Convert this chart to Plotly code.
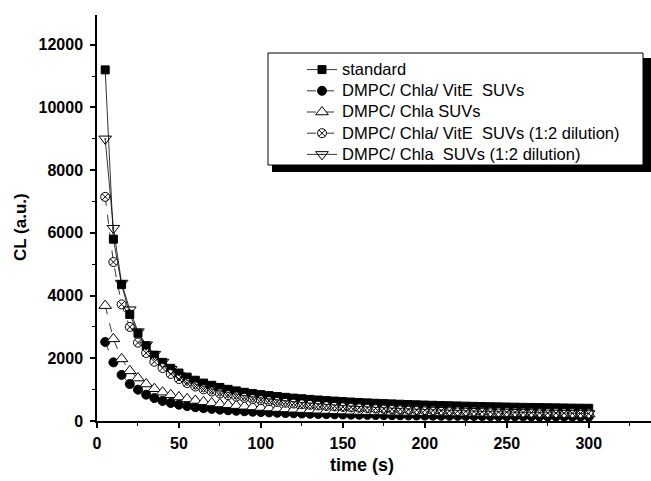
import plotly.graph_objects as go

time_s = list(range(5, 305, 5))

standard = [11200, 5800, 4350, 3400, 2800, 2400, 2100, 1870, 1680, 1530,
            1400, 1300, 1210, 1140, 1070, 1010, 960, 915, 875, 840,
            810, 780, 755, 730, 710, 690, 670, 650, 635, 620,
            605, 590, 578, 566, 555, 545, 535, 526, 517, 509,
            501, 494, 487, 480, 474, 468, 462, 456, 451, 446,
            441, 436, 432, 428, 424, 420, 416, 412, 409, 405]

vite_suv = [2520, 1870, 1470, 1180, 1000, 840, 730, 640, 575, 520,
            475, 440, 410, 385, 362, 342, 325, 310, 296, 284,
            273, 263, 254, 246, 238, 231, 225, 219, 213, 208,
            203, 199, 195, 191, 187, 184, 181, 178, 175, 172,
            170, 167, 165, 163, 161, 159, 157, 155, 153, 151,
            150, 148, 147, 145, 144, 142, 141, 140, 139, 138]

chla_suv = [3680, 2620, 1980, 1600, 1370, 1180, 1030, 920, 835, 765,
            705, 655, 612, 575, 543, 515, 490, 468, 448, 430,
            414, 399, 386, 374, 363, 352, 343, 334, 326, 318,
            311, 305, 299, 293, 288, 283, 278, 274, 270, 266,
            262, 259, 256, 253, 250, 247, 245, 242, 240, 238,
            236, 234, 232, 230, 228, 227, 225, 224, 222, 221]

vite_dil = [7150, 5070, 3720, 3000, 2500, 2170, 1890, 1690, 1500, 1340,
            1210, 1100, 1010, 940, 880, 825, 780, 740, 700, 665,
            635, 607, 582, 558, 536, 516, 497, 480, 464, 449,
            435, 422, 410, 398, 387, 377, 367, 358, 349, 341,
            333, 326, 319, 312, 306, 300, 294, 288, 283, 278,
            273, 268, 264, 260, 256, 252, 248, 244, 240, 236]

chla_dil = [9000, 6150, 4400, 3550, 2850, 2430, 2130, 1880, 1650, 1450,
            1300, 1180, 1090, 1020, 960, 905, 855, 810, 770, 735,
            700, 670, 640, 615, 590, 565, 545, 525, 505, 488,
            472, 456, 442, 428, 415, 403, 391, 380, 370, 360,
            351, 342, 334, 326, 318, 311, 304, 298, 292, 286,
            280, 275, 270, 265, 260, 255, 251, 247, 243, 239]

names = ["standard",
         "DMPC/ Chla/ VitE \u00a0SUVs",
         "DMPC/ Chla SUVs",
         "DMPC/ Chla/ VitE \u00a0SUVs (1:2 dilution)",
         "DMPC/ Chla \u00a0SUVs (1:2 dilution)"]

x_ticks = [0, 50, 100, 150, 200, 250, 300]
y_ticks = [0, 2000, 4000, 6000, 8000, 10000, 12000]

W, H = 651, 481
ML, MR, MT, MB = 97, 0, 15, 60
PW, PH = W - ML - MR, H - MT - MB


def px(x):
    return (x - ML) / PW


def py(y):
    return (H - MB - y) / PH


series = [
    (standard, "square", "black", "black", "solid", 8),
    (vite_suv, "circle", "black", "black", "dash", 9),
    (chla_suv, "triangle-up", "white", "black", "dash", 11),
    (vite_dil, "circle-x", "white", "black", "dash", 9),
    (chla_dil, "triangle-down-open-dot", "black", "black", "solid", 11),
]

fig = go.Figure()
for (vals, sym, fill, edge, dash, sz), nm in zip(series, names):
    fig.add_trace(go.Scatter(
        x=time_s, y=vals,
        name='<span style="font-size:16.5px">' + nm + '</span>',
        mode="lines+markers",
        line=dict(color="black", width=0.8, dash=dash),
        marker=dict(symbol=sym, size=sz, color=fill,
                    line=dict(color=edge, width=1)),
    ))

font_main = "Liberation Sans, Arial, sans-serif"

fig.update_layout(
    width=W, height=H,
    margin=dict(l=ML, r=MR, t=MT, b=MB, pad=0),
    plot_bgcolor="white", paper_bgcolor="white",
    showlegend=True,
    legend=dict(x=px(302), y=py(54), xanchor="left", yanchor="top",
                bgcolor="rgba(0,0,0,0)", borderwidth=0,
                font=dict(family=font_main, size=14, color="black"),
                tracegroupgap=0),
    xaxis=dict(range=[0, 338], showgrid=False, zeroline=False,
               showline=True, linecolor="black", linewidth=1.5,
               ticks="outside", ticklen=5, tickwidth=1.5, tickcolor="black",
               tickvals=x_ticks, ticktext=[str(v) for v in x_ticks],
               ticklabelstandoff=2,
               tickfont=dict(family=font_main, size=16, color="black", weight="bold"),
               minor=dict(dtick=25, ticks="outside", ticklen=3, tickwidth=1.2, tickcolor="black",
                          tick0=0, showgrid=False)),
    yaxis=dict(range=[0, 12950], showgrid=False, zeroline=False,
               showline=True, linecolor="black", linewidth=1.5,
               ticks="outside", ticklen=5, tickwidth=1.5, tickcolor="black",
               tickvals=y_ticks, ticktext=[str(v) for v in y_ticks],
               ticklabelstandoff=4,
               tickfont=dict(family=font_main, size=16, color="black", weight="bold"),
               minor=dict(dtick=1000, ticks="outside", ticklen=3, tickwidth=1.2, tickcolor="black",
                          tick0=0, showgrid=False)),
    shapes=[
        dict(type="rect", xref="paper", yref="paper",
             x0=px(272), x1=px(651), y0=py(172), y1=py(58),
             fillcolor="black", line=dict(width=0), layer="above"),
        dict(type="rect", xref="paper", yref="paper",
             x0=px(268), x1=px(643), y0=py(165), y1=py(53),
             fillcolor="white", line=dict(color="black", width=1), layer="above"),
    ],
    annotations=[
        dict(text="<b>time (s)</b>", xref="paper", yref="paper",
             x=px(362), y=py(465), xanchor="center", yanchor="middle",
             showarrow=False, font=dict(family=font_main, size=18, color="black")),
        dict(text="<b>CL (a.u.)</b>", xref="paper", yref="paper",
             x=px(20), y=py(227), xanchor="center", yanchor="middle", textangle=-90,
             showarrow=False, font=dict(family=font_main, size=17, color="black")),
    ],
)

fig.write_html("out.html", config={"displayModeBar": False},
               post_script="document.body.style.margin='0';")
